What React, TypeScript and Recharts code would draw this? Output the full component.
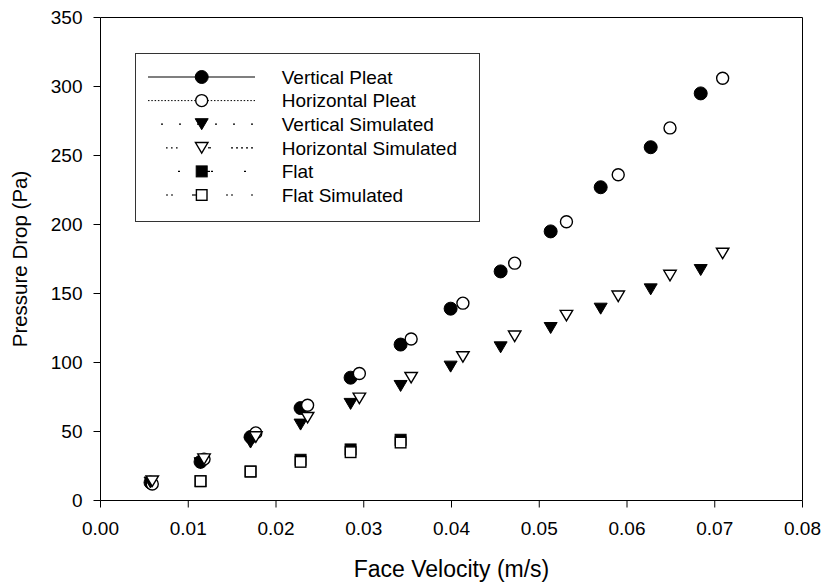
import React from 'react';
import { ScatterChart, Scatter, XAxis, YAxis, Legend, ReferenceLine } from 'recharts';

// ---- data ----
const verticalVelocity = [0.0057, 0.0114, 0.0171, 0.0228, 0.0285, 0.0342, 0.0399, 0.0456, 0.0513, 0.057, 0.0627, 0.0684];
const horizontalVelocity = [0.0059, 0.0118, 0.0177, 0.0236, 0.0295, 0.0354, 0.0413, 0.0472, 0.0531, 0.059, 0.0649, 0.0709];
const flatVelocity = [0.0114, 0.0171, 0.0228, 0.0285, 0.0342];

const verticalPleat = [13, 28, 46, 67, 89, 113, 139, 166, 195, 227, 256, 295];
const horizontalPleat = [12, 30, 49, 69, 92, 117, 143, 172, 202, 236, 270, 306];
const verticalSimulated = [13, 27, 42, 55, 70, 83, 97, 111, 125, 139, 153, 167];
const horizontalSimulated = [14, 30, 46, 60, 74, 89, 104, 119, 134, 148, 163, 179];
const flat = [14, 21, 29.5, 37, 44];
const flatSimulated = [14, 21, 28, 35, 42];

const seriesNames = ['Vertical Pleat', 'Horizontal Pleat', 'Vertical Simulated', 'Horizontal Simulated', 'Flat', 'Flat Simulated'];
const xTicks = [0, 0.01, 0.02, 0.03, 0.04, 0.05, 0.06, 0.07, 0.08];
const yTicks = [0, 50, 100, 150, 200, 250, 300, 350];

const FONT = '"Liberation Sans", Arial, Helvetica, sans-serif';

const toPoints = (xs: number[], ys: number[]) => xs.map((x, i) => ({ x, y: ys[i] }));

// ---- marker shapes ----
const triPath = (cx: number, cy: number, w: number, h: number) =>
  `M${cx - w / 2},${cy - h / 2} L${cx + w / 2},${cy - h / 2} L${cx},${cy + h / 2} Z`;

const FilledCircle = (p: any) => <circle cx={p.cx} cy={p.cy} r={6.5} fill="#000" stroke="#000" strokeWidth={1} />;
const OpenCircle = (p: any) => <circle cx={p.cx} cy={p.cy} r={6} fill="#fff" stroke="#000" strokeWidth={1.4} />;
const FilledTri = (p: any) => <path d={triPath(p.cx, p.cy, 13, 11)} fill="#000" stroke="#000" strokeWidth={1} />;
const OpenTri = (p: any) => <path d={triPath(p.cx, p.cy, 12.5, 10.5)} fill="#fff" stroke="#000" strokeWidth={1.4} />;
const FilledSquare = (p: any) => <rect x={p.cx - 5.5} y={p.cy - 5.5} width={11} height={11} fill="#000" stroke="#000" strokeWidth={1} />;
const OpenSquare = (p: any) => <rect x={p.cx - 5.3} y={p.cy - 5.3} width={10.6} height={10.6} fill="#fff" stroke="#000" strokeWidth={1.4} />;

// ---- legend ----
const LegendBox = () => {
  const rows = [23, 46.6, 70.2, 93.8, 117.4, 141];
  const mx = 65.7;
  const fs = 19;
  const ln = { stroke: '#000', strokeWidth: 1.2 };
  return (
    <div style={{ width: 345, height: 169, border: '1px solid #333', boxSizing: 'border-box', background: '#fff' }}>
      <svg width={343} height={167} style={{ display: 'block' }}>
        {/* Vertical Pleat */}
        <line x1={12} x2={119} y1={rows[0]} y2={rows[0]} {...ln} />
        <FilledCircle cx={mx} cy={rows[0]} />
        {/* Horizontal Pleat */}
        <line x1={12} x2={119} y1={rows[1]} y2={rows[1]} {...ln} strokeWidth={1} strokeDasharray="1.5 1.8" />
        <OpenCircle cx={mx} cy={rows[1]} />
        {/* Vertical Simulated */}
        <line x1={25} x2={119} y1={rows[2]} y2={rows[2]} {...ln} strokeDasharray="2 16" />
        <FilledTri cx={mx} cy={rows[2]} />
        {/* Horizontal Simulated */}
        <line x1={30} x2={44} y1={rows[3]} y2={rows[3]} {...ln} strokeDasharray="1.6 3.4" />
        <line x1={72} x2={75} y1={rows[3]} y2={rows[3]} {...ln} />
        <line x1={95} x2={118} y1={rows[3]} y2={rows[3]} {...ln} strokeDasharray="2 3" />
        <OpenTri cx={mx} cy={rows[3]} />
        {/* Flat */}
        <line x1={42} x2={120} y1={rows[4]} y2={rows[4]} {...ln} strokeDasharray="2 31" />
        <line x1={70} x2={74} y1={rows[4]} y2={rows[4]} {...ln} />
        <FilledSquare cx={mx} cy={rows[4]} />
        {/* Flat Simulated */}
        <line x1={30} x2={38} y1={rows[5]} y2={rows[5]} {...ln} strokeDasharray="2 3" />
        <line x1={56} x2={61} y1={rows[5]} y2={rows[5]} {...ln} />
        <line x1={90} x2={98} y1={rows[5]} y2={rows[5]} {...ln} strokeDasharray="2 3" />
        <line x1={115} x2={117} y1={rows[5]} y2={rows[5]} {...ln} />
        <OpenSquare cx={mx} cy={rows[5]} />
        {seriesNames.map((n, i) => (
          <text key={n} x={145.7} y={rows[i] + 0.355 * fs} fontSize={fs} fontFamily={FONT} fill="#000">
            {n}
          </text>
        ))}
      </svg>
    </div>
  );
};

export default function App() {
  const tickStyle = { fill: '#000', fontSize: 19, fontFamily: FONT };
  return (
    <div style={{ position: 'absolute', left: 0, top: 0, background: '#fff' }}>
      <ScatterChart width={825} height={583} margin={{ top: 17.5, right: 22.5, bottom: 0, left: 5.5 }}>
        <XAxis
          type="number"
          dataKey="x"
          domain={[0, 0.08]}
          ticks={xTicks}
          tickFormatter={(v: number) => v.toFixed(2)}
          height={82.5}
          tickSize={7}
          tickMargin={14}
          tick={tickStyle}
          axisLine={{ stroke: '#000' }}
          tickLine={{ stroke: '#000' }}
          allowDataOverflow
          label={{ value: 'Face Velocity (m/s)', position: 'insideBottom', offset: 6.3, style: { fontSize: 23, fill: '#000', fontFamily: FONT } }}
        />
        <YAxis
          type="number"
          dataKey="y"
          domain={[0, 350]}
          ticks={yTicks}
          width={95}
          tickSize={7}
          tickMargin={11}
          tick={tickStyle}
          axisLine={{ stroke: '#000' }}
          tickLine={{ stroke: '#000' }}
          allowDataOverflow
          label={{ value: 'Pressure Drop (Pa)', angle: -90, position: 'insideLeft', offset: 14.5, style: { textAnchor: 'middle', fontSize: 20.5, fill: '#000', fontFamily: FONT } }}
        />
        <ReferenceLine y={350} stroke="#000" strokeWidth={1} ifOverflow="visible" />
        <ReferenceLine x={0.08} stroke="#000" strokeWidth={1} ifOverflow="visible" />
        <Legend
          layout="vertical"
          align="center"
          verticalAlign="middle"
          content={() => <LegendBox />}
          wrapperStyle={{ left: 135, top: 53, width: 345, height: 169, margin: 0 }}
        />
        <Scatter name={seriesNames[0]} data={toPoints(verticalVelocity, verticalPleat)} shape={FilledCircle} isAnimationActive={false} />
        <Scatter name={seriesNames[1]} data={toPoints(horizontalVelocity, horizontalPleat)} shape={OpenCircle} isAnimationActive={false} />
        <Scatter name={seriesNames[2]} data={toPoints(verticalVelocity, verticalSimulated)} shape={FilledTri} isAnimationActive={false} />
        <Scatter name={seriesNames[3]} data={toPoints(horizontalVelocity, horizontalSimulated)} shape={OpenTri} isAnimationActive={false} />
        <Scatter name={seriesNames[4]} data={toPoints(flatVelocity, flat)} shape={FilledSquare} isAnimationActive={false} />
        <Scatter name={seriesNames[5]} data={toPoints(flatVelocity, flatSimulated)} shape={OpenSquare} isAnimationActive={false} />
      </ScatterChart>
    </div>
  );
}
